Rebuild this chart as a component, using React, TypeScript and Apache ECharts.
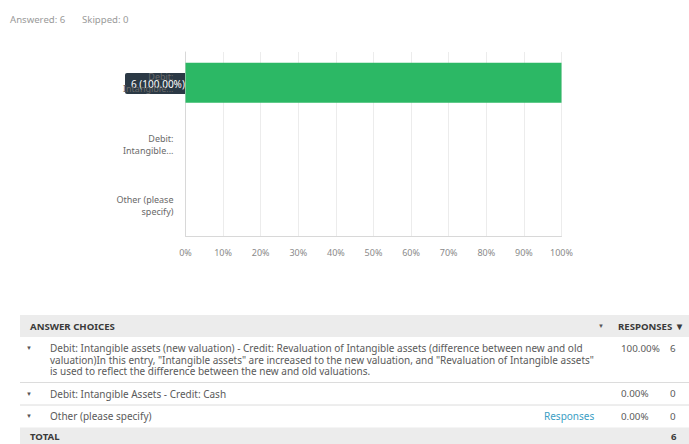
import React, { useEffect, useRef } from "react";
import * as echarts from "echarts";

const categories = ["Debit:\nIntangible...", "Debit:\nIntangible...", "Other (please\nspecify)"];
const percents = [100, 0, 0];
const counts = [6, 0, 0];
const xTicks = [0, 10, 20, 30, 40, 50, 60, 70, 80, 90, 100];
const answered = 6;
const skipped = 0;
const choiceLines = [
  [
    "Debit: Intangible assets (new valuation) - Credit: Revaluation of Intangible assets (difference between new and old",
    "valuation)In this entry, \"Intangible assets\" are increased to the new valuation, and \"Revaluation of Intangible assets\"",
    "is used to reflect the difference between the new and old valuations.",
  ],
  ["Debit: Intangible Assets - Credit: Cash"],
  ["Other (please specify)"],
];
const hasResponsesLink = [false, false, true];
const total = 6;

const FONT = "'Noto Sans', sans-serif";

export default function App() {
  const ref = useRef<HTMLDivElement>(null);
  useEffect(() => {
    const chart = echarts.init(ref.current!, null, { renderer: "svg" });

    const graphics: any[] = [];
    graphics.push({
      type: "text", x: 10, y: 19,
      style: { text: `Answered: ${answered}`, fill: "#9a9a9a", font: `9.6px ${FONT}`, verticalAlign: "middle" },
    });
    graphics.push({
      type: "text", x: 82, y: 19,
      style: { text: `Skipped: ${skipped}`, fill: "#9a9a9a", font: `9.6px ${FONT}`, verticalAlign: "middle" },
    });

    // Tooltip box
    graphics.push({
      type: "group", x: 125, y: 73, z: 100,
      children: [
        { type: "rect", shape: { x: 0, y: 0, width: 70, height: 21, r: 2 }, style: { fill: "#2b3945" } },
        {
          type: "text", x: 6, y: 10.5,
          style: { text: `${counts[0]} (${percents[0].toFixed(2)}%)`, fill: "#ffffff", font: `10px ${FONT}`, verticalAlign: "middle" },
        },
      ],
    });

    // Table
    const tL = 20, tR = 689;
    const headTop = 315, headH = 22;
    const bodyFont = `10px ${FONT}`;
    const numFont = `9.8px ${FONT}`;
    const headFont = `bold 9.6px ${FONT}`;
    graphics.push({ type: "rect", shape: { x: tL, y: headTop, width: tR - tL, height: headH }, style: { fill: "#ececec" } });
    graphics.push({ type: "text", x: 30, y: headTop + headH / 2, style: { text: "ANSWER CHOICES", fill: "#3a3a3a", font: headFont, verticalAlign: "middle" } });
    graphics.push({ type: "text", x: 598, y: headTop + headH / 2, style: { text: "▼", fill: "#555", font: `6px ${FONT}`, verticalAlign: "middle" } });
    graphics.push({ type: "text", x: 618, y: headTop + headH / 2, style: { text: "RESPONSES ▼", fill: "#3a3a3a", font: headFont, verticalAlign: "middle" } });

    const lineH = 11.5;
    let y = headTop + headH;
    choiceLines.forEach((lines, i) => {
      const rowH = lines.length * lineH + 11;
      const firstY = y + 5.5 + lineH / 2;
      graphics.push({ type: "text", x: 26, y: firstY, style: { text: "▼", fill: "#555", font: `6px ${FONT}`, verticalAlign: "middle" } });
      graphics.push({
        type: "text", x: 50, y: y + 5.5,
        style: { text: lines.join("\n"), fill: "#5a5a5a", font: bodyFont, lineHeight: lineH, verticalAlign: "top" },
      });
      if (hasResponsesLink[i]) {
        graphics.push({ type: "text", x: 544, y: firstY, style: { text: "Responses", fill: "#3a9ec4", font: bodyFont, verticalAlign: "middle" } });
      }
      graphics.push({ type: "text", x: 621, y: firstY, style: { text: `${percents[i].toFixed(2)}%`, fill: "#5a5a5a", font: numFont, verticalAlign: "middle" } });
      graphics.push({ type: "text", x: 670, y: firstY, style: { text: `${counts[i]}`, fill: "#5a5a5a", font: numFont, verticalAlign: "middle" } });
      y += rowH;
      if (i < choiceLines.length - 1) {
        graphics.push({ type: "line", shape: { x1: tL, y1: y, x2: tR, y2: y }, style: { stroke: "#dcdcdc", lineWidth: 1 } });
      }
    });
    graphics.push({ type: "rect", shape: { x: tL, y: y, width: tR - tL, height: 444 - y }, style: { fill: "#ececec" } });
    graphics.push({ type: "text", x: 30, y: y + 8.5, style: { text: "TOTAL", fill: "#3a3a3a", font: headFont, verticalAlign: "middle" } });
    graphics.push({ type: "text", x: 671, y: y + 8.5, style: { text: `${total}`, fill: "#3a3a3a", font: headFont, verticalAlign: "middle" } });

    chart.setOption({
      animation: false,
      backgroundColor: "#ffffff",
      textStyle: { fontFamily: FONT },
      grid: { left: 185.5, right: 127.5, top: 52, bottom: 208, containLabel: false },
      xAxis: {
        type: "value", min: 0, max: 100, interval: 10,
        axisLabel: { formatter: "{value}%", color: "#8a8a8a", fontSize: 9, margin: 12 },
        axisLine: { show: true, lineStyle: { color: "#d8d8d8" } },
        axisTick: { show: false },
        splitLine: { show: true, lineStyle: { color: "#ececec" } },
        data: xTicks,
      },
      yAxis: {
        type: "category", inverse: true, data: categories,
        axisLabel: { color: "#6a6a6a", fontSize: 9, lineHeight: 12, margin: 12, align: "right" },
        axisLine: { show: true, lineStyle: { color: "#d8d8d8" } },
        axisTick: { show: false },
        splitLine: { show: false },
      },
      series: [
        {
          type: "bar", data: percents, barWidth: 40,
          itemStyle: { color: "#2cb865" },
        },
      ],
      graphic: graphics,
    });
    return () => chart.dispose();
  }, []);
  return <div ref={ref} style={{ position: "fixed", left: 0, top: 0, width: 689, height: 444 }} />;
}
